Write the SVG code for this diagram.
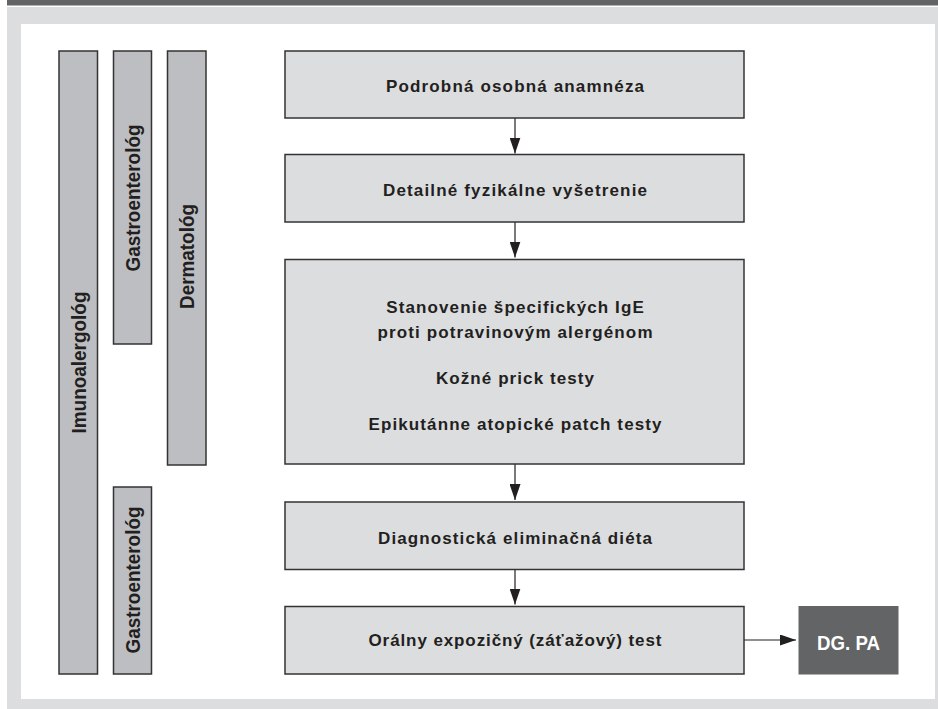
<svg xmlns="http://www.w3.org/2000/svg" width="938" height="709" viewBox="0 0 938 709">
<style>
.box{fill:#dcdddf;stroke:#333;stroke-width:1.5}
.bar{fill:#bdbec1;stroke:#333;stroke-width:1.5}
.t{font-family:"Liberation Sans",Arial,sans-serif;font-weight:bold;font-size:17px;fill:#231f20;text-anchor:middle}
.v{font-family:"Liberation Sans",Arial,sans-serif;font-weight:bold;font-size:20px;fill:#231f20;text-anchor:middle}
.c{stroke:#231f20;stroke-width:1.2;fill:none;marker-end:url(#ah)}
</style>
<defs>
<marker id="ah" markerUnits="userSpaceOnUse" markerWidth="16" markerHeight="11" refX="16" refY="5.5" orient="auto">
<path d="M0,0 L16,5.5 L0,11 z" fill="#231f20"/>
</marker>
</defs>
<rect x="0" y="0" width="938" height="709" fill="#fff"/>
<rect x="7" y="0" width="931" height="5.5" fill="#636466"/>
<rect x="7" y="7" width="931" height="702" fill="#dcdddf"/>
<rect x="21" y="24" width="914" height="675" fill="#fff"/>

<g id="imunoalergolog">
<rect class="bar" x="59" y="51" width="38.5" height="623"/>
<text class="v" transform="translate(85.5,362.5) rotate(-90)" textLength="142" lengthAdjust="spacingAndGlyphs">Imunoalergológ</text>
</g>
<g id="gastroenterolog-1">
<rect class="bar" x="113.5" y="51" width="38" height="293"/>
<text class="v" transform="translate(139.5,198) rotate(-90)" textLength="147" lengthAdjust="spacingAndGlyphs">Gastroenterológ</text>
</g>
<g id="dermatolog">
<rect class="bar" x="167.5" y="51" width="38.5" height="414"/>
<text class="v" transform="translate(194,256.5) rotate(-90)" textLength="105" lengthAdjust="spacingAndGlyphs">Dermatológ</text>
</g>
<g id="gastroenterolog-2">
<rect class="bar" x="113.5" y="487" width="38" height="187"/>
<text class="v" transform="translate(139.5,580) rotate(-90)" textLength="147" lengthAdjust="spacingAndGlyphs">Gastroenterológ</text>
</g>

<g id="connectors">
<line class="c" x1="515" y1="118" x2="515" y2="153.5"/>
<line class="c" x1="515" y1="222" x2="515" y2="257.5"/>
<line class="c" x1="515" y1="464" x2="515" y2="500"/>
<line class="c" x1="515" y1="569.5" x2="515" y2="604.5"/>
<line class="c" x1="744" y1="640" x2="796" y2="640"/>
</g>

<g id="anamneza">
<rect class="box" x="285" y="51" width="459" height="67"/>
<text class="t" x="515" y="92" textLength="258" lengthAdjust="spacing">Podrobná osobná anamnéza</text>
</g>
<g id="vysetrenie">
<rect class="box" x="285" y="154.5" width="459" height="67.5"/>
<text class="t" x="515" y="196" textLength="264" lengthAdjust="spacing">Detailné fyzikálne vyšetrenie</text>
</g>
<g id="testy">
<rect class="box" x="285" y="259.5" width="459" height="204.5"/>
<text class="t" x="515" y="312.5" textLength="257.5" lengthAdjust="spacing">Stanovenie špecifických IgE</text>
<text class="t" x="515" y="337.5" textLength="275" lengthAdjust="spacing">proti potravinovým alergénom</text>
<text class="t" x="515" y="383.5" textLength="158" lengthAdjust="spacing">Kožné prick testy</text>
<text class="t" x="515" y="430" textLength="293" lengthAdjust="spacing">Epikutánne atopické patch testy</text>
</g>
<g id="dieta">
<rect class="box" x="285" y="502" width="459" height="67.5"/>
<text class="t" x="515" y="543.5" textLength="274" lengthAdjust="spacing">Diagnostická eliminačná diéta</text>
</g>
<g id="expozicny-test">
<rect class="box" x="285" y="606.5" width="459" height="67.5"/>
<text class="t" x="515" y="646" textLength="293" lengthAdjust="spacing">Orálny expozičný (záťažový) test</text>
</g>
<g id="dg-pa">
<rect x="798.5" y="606" width="100" height="68.5" fill="#636466"/>
<text x="848.5" y="649.5" text-anchor="middle" font-family="Liberation Sans, Arial, sans-serif" font-weight="bold" font-size="20" fill="#fff" textLength="63" lengthAdjust="spacingAndGlyphs">DG. PA</text>
</g>
</svg>
